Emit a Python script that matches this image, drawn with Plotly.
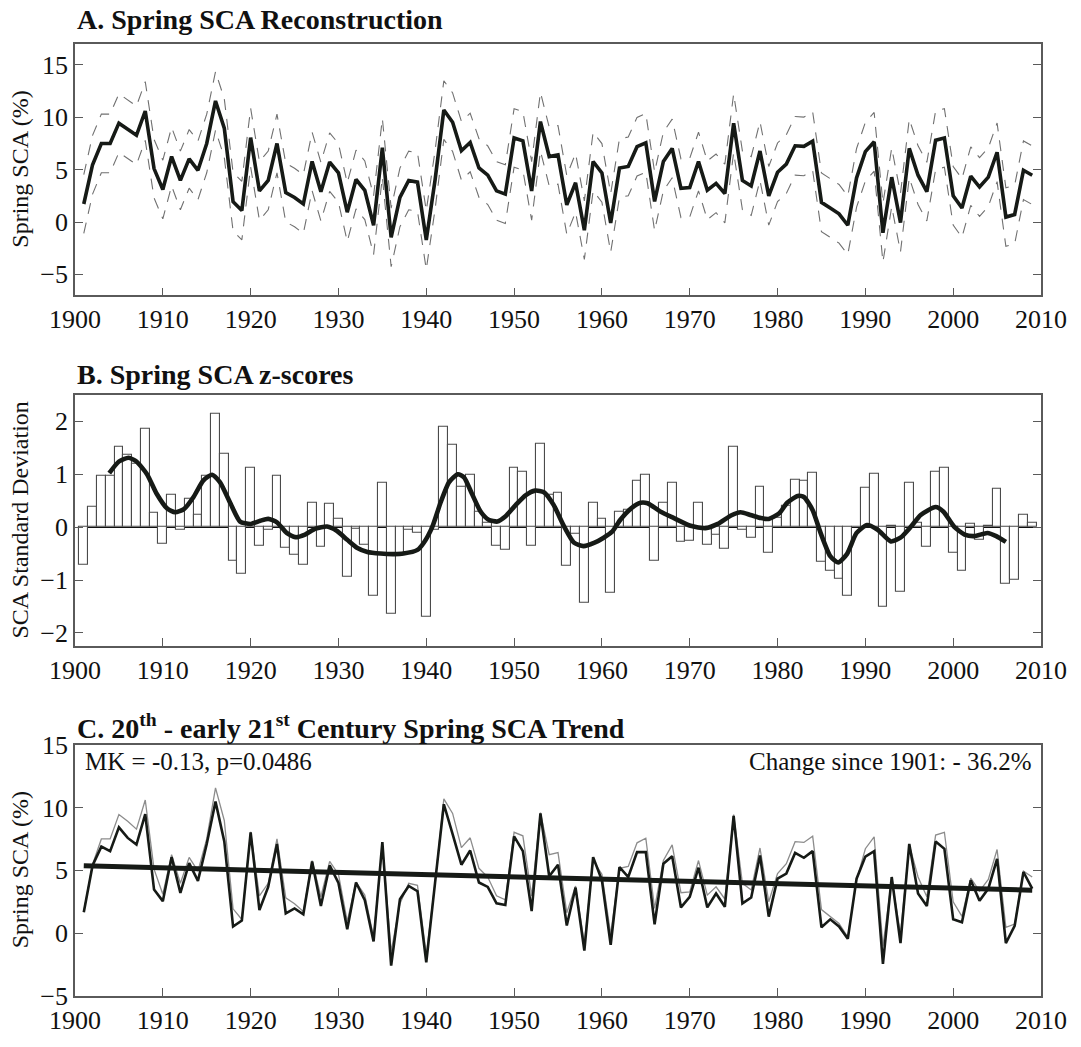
import numpy as np
import plotly.graph_objects as go

# ---- data -------------------------------------------------------------
years = list(range(1901, 2010))

# reconstructed spring snow-cover area (%)
recon = [
    1.72, 5.47, 7.50, 7.50, 9.44, 8.90, 8.28, 10.60, 5.10, 3.10,
    6.25, 3.97, 6.03, 4.94, 7.50, 11.56, 8.97, 1.94, 1.09, 8.06,
    2.97, 3.97, 7.50, 2.81, 2.34, 1.72, 5.78, 2.90, 5.72, 4.69,
    0.94, 4.06, 3.03, -0.31, 7.09, -1.47, 2.35, 3.97, 3.81, -1.72,
    4.00, 10.69, 9.53, 6.81, 7.59, 5.16, 4.47, 2.97, 2.66, 8.03,
    7.75, 2.97, 9.59, 6.25, 6.41, 1.63, 3.75, -0.78, 5.78, 4.69,
    -0.09, 5.16, 5.31, 7.19, 7.56, 1.97, 5.78, 7.03, 3.22, 3.28,
    5.78, 3.03, 3.69, 2.72, 9.44, 3.97, 3.44, 6.78, 2.50, 4.75,
    5.53, 7.28, 7.22, 7.72, 1.88, 1.34, 0.78, -0.31, 4.22, 6.72,
    7.66, -1.03, 4.28, -0.06, 7.03, 4.47, 2.90, 7.81, 8.03, 2.50,
    1.34, 4.38, 3.34, 4.28, 6.66, 0.47, 0.72, 4.94, 4.47,
]

# half-width of the reconstruction uncertainty band (%)
recon_err = 2.8

# reference-period statistics used for the z-scores
z_mean = 4.17
z_sd = 3.455

# series used for the trend test
trend_series = [
    1.66, 5.39, 6.89, 6.53, 8.42, 7.58, 7.05, 9.47, 3.47, 2.55,
    6.05, 3.21, 5.58, 4.16, 7.10, 10.47, 7.30, 0.53, 1.00, 8.03,
    1.84, 3.68, 7.10, 1.58, 1.97, 1.50, 5.71, 2.16, 5.39, 4.00,
    0.32, 4.03, 2.63, -0.66, 7.24, -2.58, 2.70, 3.76, 3.34, -2.32,
    4.00, 10.26, 7.89, 5.45, 6.58, 4.03, 3.68, 2.37, 2.24, 7.71,
    6.53, 1.76, 9.53, 4.53, 5.45, 0.61, 3.63, -1.39, 6.05, 4.21,
    -0.92, 5.26, 4.47, 6.45, 6.45, 0.71, 5.53, 6.13, 2.05, 2.89,
    5.21, 2.05, 3.16, 2.10, 9.34, 2.37, 2.84, 6.18, 1.32, 4.34,
    4.74, 6.39, 6.00, 6.53, 0.47, 1.10, 0.53, -0.45, 4.34, 6.10,
    6.53, -2.45, 4.47, -0.79, 7.10, 3.16, 2.16, 7.29, 6.71, 1.10,
    0.87, 4.21, 2.58, 3.55, 5.92, -0.79, 0.58, 4.87, 3.55,
]

# smoothed z-score curve
smooth_years = [
    1903.9, 1905.0, 1906.1, 1907.0, 1908.2, 1909.3, 1910.5, 1911.4, 1912.4, 1913.5,
    1914.6, 1915.6, 1916.5, 1917.7, 1918.8, 1920.0, 1921.1, 1922.0, 1923.0, 1924.1,
    1925.1, 1926.2, 1927.4, 1928.7, 1929.8, 1931.0, 1932.1, 1933.3, 1934.8, 1936.3,
    1937.4, 1939.0, 1939.7, 1940.7, 1941.6, 1942.6, 1943.6, 1944.3, 1945.2, 1946.2,
    1947.1, 1948.1, 1949.0, 1950.2, 1951.3, 1952.4, 1953.4, 1954.5, 1955.7, 1956.8,
    1957.9, 1959.1, 1960.2, 1961.2, 1962.1, 1963.3, 1964.4, 1965.2, 1966.7, 1968.2,
    1970.1, 1971.8, 1973.2, 1974.7, 1975.8, 1976.9, 1978.1, 1979.0, 1980.2, 1981.1,
    1982.3, 1983.0, 1984.0, 1984.9, 1986.0, 1986.9, 1987.9, 1989.0, 1990.2, 1991.4,
    1992.9, 1994.0, 1995.2, 1996.3, 1998.0, 1998.9, 2000.1, 2001.3, 2002.4, 2003.9,
    2004.9, 2006.0,
]
smooth_z = [
    1.02, 1.24, 1.31, 1.24, 1.00, 0.63, 0.35, 0.28, 0.34, 0.57,
    0.88, 0.99, 0.85, 0.45, 0.105, 0.06, 0.12, 0.155, 0.09, -0.11,
    -0.19, -0.14, -0.03, 0.01, -0.07, -0.24, -0.39, -0.47, -0.50, -0.51,
    -0.50, -0.43, -0.30, 0.01, 0.45, 0.85, 1.00, 0.94, 0.63, 0.29,
    0.14, 0.105, 0.20, 0.42, 0.60, 0.69, 0.66, 0.42, 0.01, -0.29,
    -0.36, -0.30, -0.20, -0.08, 0.14, 0.35, 0.46, 0.45, 0.29, 0.17,
    0.025, -0.02, 0.06, 0.22, 0.28, 0.23, 0.17, 0.155, 0.26, 0.46,
    0.59, 0.57, 0.32, -0.11, -0.55, -0.67, -0.51, -0.11, 0.04, -0.05,
    -0.27, -0.20, 0.01, 0.23, 0.38, 0.29, 0.01, -0.14, -0.17, -0.11,
    -0.17, -0.28,
]

# linear trend end points
trend_years = [1901, 2009]
trend_vals = [5.36, 3.42]

x_ticks = list(range(1900, 2011, 10))
yA_ticks = [-5, 0, 5, 10, 15]
yB_ticks = [-2, -1, 0, 1, 2]
yC_ticks = [-5, 0, 5, 10, 15]

# ---- derived ----------------------------------------------------------
r = np.array(recon)
upper = r + recon_err
lower = r - recon_err
zscores = (r - z_mean) / z_sd

# ---- styling ----------------------------------------------------------
FONT = "Liberation Serif, Times New Roman, serif"
DARK = "#161a16"
FRAME = "#5a5a5a"

fig = go.Figure()

# Panel A
for band in (upper, lower):
    fig.add_trace(go.Scatter(x=years, y=band, mode="lines",
                             line=dict(color="#707070", width=1.1, dash="11px,9px"),
                             xaxis="x", yaxis="y", showlegend=False))
fig.add_trace(go.Scatter(x=years, y=recon, mode="lines",
                         line=dict(color=DARK, width=3.6),
                         xaxis="x", yaxis="y", showlegend=False))

# Panel B
fig.add_trace(go.Bar(x=years, y=zscores, width=1.0,
                     marker=dict(color="white", line=dict(color="#4a4a4a", width=1.1)),
                     xaxis="x2", yaxis="y2", showlegend=False))
fig.add_trace(go.Scatter(x=smooth_years, y=smooth_z, mode="lines",
                         line=dict(color=DARK, width=4.6, shape="spline", smoothing=0.6),
                         xaxis="x2", yaxis="y2", showlegend=False))

# Panel C
fig.add_trace(go.Scatter(x=years, y=recon, mode="lines",
                         line=dict(color="#8c8c8c", width=1.3),
                         xaxis="x3", yaxis="y3", showlegend=False))
fig.add_trace(go.Scatter(x=years, y=trend_series, mode="lines",
                         line=dict(color=DARK, width=2.6),
                         xaxis="x3", yaxis="y3", showlegend=False))
fig.add_trace(go.Scatter(x=trend_years, y=trend_vals, mode="lines",
                         line=dict(color=DARK, width=5),
                         xaxis="x3", yaxis="y3", showlegend=False))

# ---- axes -------------------------------------------------------------
tickfont = dict(family=FONT, size=26, color="#111")


def xax(anchor):
    return dict(range=[1900, 2010], tickvals=x_ticks, ticks="inside", ticklen=8,
                tickwidth=1.3, tickcolor=FRAME, showline=True, linecolor=FRAME,
                linewidth=1.6, mirror=True, showgrid=False, zeroline=False,
                tickfont=tickfont, anchor=anchor, domain=[0, 1])


def yax(rng, ticks, domain, anchor, zero=False):
    return dict(range=rng, tickvals=ticks, ticks="inside", ticklen=8,
                tickwidth=1.3, tickcolor=FRAME, showline=True, linecolor=FRAME,
                linewidth=1.6, mirror="ticks", showgrid=False,
                zeroline=zero, zerolinecolor="#111", zerolinewidth=1.2,
                tickfont=tickfont, anchor=anchor, domain=domain)


H_TOP, H_BOT = 44, 37
plot_h = 1047 - H_TOP - H_BOT


def dom(top_px, bot_px):
    return [(1047 - H_BOT - bot_px) / plot_h, (1047 - H_BOT - top_px) / plot_h]


domA = dom(44, 299)
domB = dom(400, 655)
domC = dom(755, 1010)

fig.update_layout(
    width=1081, height=1047,
    margin=dict(l=75, r=40, t=H_TOP, b=H_BOT),
    paper_bgcolor="white", plot_bgcolor="white",
    bargap=0,
    xaxis=xax("y"), yaxis=yax([-7, 17], yA_ticks, domA, "x"),
    xaxis2=xax("y2"), yaxis2=yax([-2.25, 2.5], yB_ticks, domB, "x2", zero=True),
    xaxis3=xax("y3"), yaxis3=yax([-5, 15], yC_ticks, domC, "x3"),
)


def py(px):
    return (1047 - H_BOT - px) / plot_h


annotations = [
    dict(text="<b>A. Spring SCA Reconstruction</b>", x=0, y=py(19)),
    dict(text="<b>B. Spring SCA z-scores</b>", x=0, y=py(379)),
    dict(text="<b>C. 20<sup>th</sup> - early 21<sup>st</sup> Century Spring SCA Trend</b>",
         x=0, y=py(737)),
]
for a in annotations:
    a.update(xref="paper", yref="paper", xanchor="left", yanchor="middle",
             showarrow=False, font=dict(family=FONT, size=28, color="#111"))

ylabels = [
    ("Spring SCA (%)", (domA[0] + domA[1]) / 2),
    ("SCA Standard Deviation", (domB[0] + domB[1]) / 2),
    ("Spring SCA (%)", (domC[0] + domC[1]) / 2),
]
for txt, yy in ylabels:
    annotations.append(dict(text=txt, x=-55 / 966, y=yy, xref="paper", yref="paper",
                            xanchor="center", yanchor="middle", textangle=-90,
                            showarrow=False,
                            font=dict(family=FONT, size=24, color="#111")))

annotations.append(dict(text="MK = -0.13, p=0.0486", x=0.008, y=0.995,
                        xref="x3 domain", yref="y3 domain", xanchor="left", yanchor="top",
                        showarrow=False, font=dict(family=FONT, size=25, color="#111")))
annotations.append(dict(text="Change since 1901: - 36.2%", x=0.993, y=0.995,
                        xref="x3 domain", yref="y3 domain", xanchor="right", yanchor="top",
                        showarrow=False, font=dict(family=FONT, size=25, color="#111")))

fig.update_layout(annotations=annotations)

fig.write_html("out.html")
